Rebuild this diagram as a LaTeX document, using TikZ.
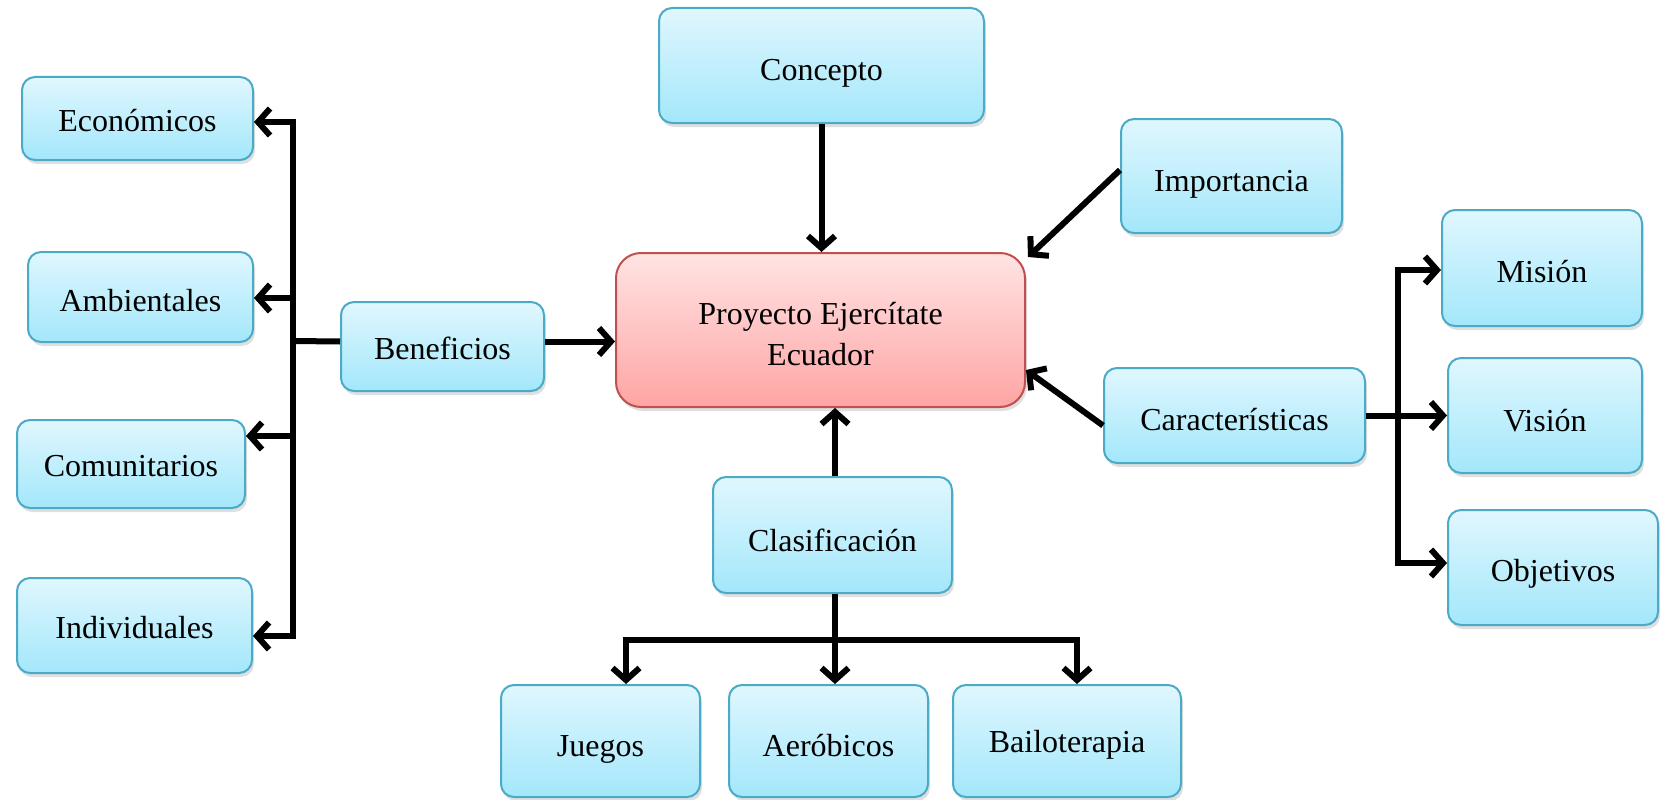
\documentclass[tikz,border=0pt]{standalone}
\usepackage{fontspec}
\setmainfont{Liberation Serif}
\usetikzlibrary{arrows.meta,shadows,calc}
\definecolor{bluetop}{RGB}{224,247,254}
\definecolor{bluebot}{RGB}{163,231,251}
\definecolor{blueline}{RGB}{75,170,198}
\definecolor{redtop}{RGB}{255,228,228}
\definecolor{redbot}{RGB}{255,164,164}
\definecolor{redline}{RGB}{192,80,77}
\newcommand\lowerby[2]{\raisebox{0pt}[\dimexpr\height+#1*2\relax][\depth]{#2}}
\begin{document}
\begin{tikzpicture}[x=1pt,y=-1pt,
  box/.style={draw=blueline, line width=2pt, rounded corners=13pt,
    top color=bluetop, bottom color=bluebot,
    drop shadow={shadow xshift=2pt, shadow yshift=-4pt, opacity=0.25},
    font=\fontsize{32}{41}\selectfont, align=center, inner sep=0pt},
  mainbox/.style={box, draw=redline, rounded corners=25pt, top color=redtop, bottom color=redbot},
  conn/.style={line width=6pt, -{Straight Barb[length=12pt,width=27pt,line width=6pt]}},
  bus/.style={line width=6pt}]
\useasboundingbox (0,0) rectangle (1666,800);

\node[mainbox, minimum width=409pt, minimum height=154pt] (cen) at (820.5,330) {\lowerby{4pt}{\parbox{380pt}{\centering Proyecto Ejercítate\\Ecuador}}};
\node[box, minimum width=325pt, minimum height=115pt] (conc) at (821.5,65.5) {\lowerby{8pt}{Concepto}};
\node[box, minimum width=221pt, minimum height=114pt] (imp) at (1231.5,176) {\lowerby{8pt}{Importancia}};
\node[box, minimum width=231pt, minimum height=83pt] (eco) at (137.5,118.5) {\lowerby{2pt}{Económicos}};
\node[box, minimum width=225pt, minimum height=90pt] (amb) at (140.5,297) {\lowerby{4pt}{Ambientales}};
\node[box, minimum width=203pt, minimum height=89pt] (ben) at (442.5,346.5) {\lowerby{2pt}{Beneficios}};
\node[box, minimum width=228pt, minimum height=88pt] (com) at (131,464) {\lowerby{2pt}{Comunitarios}};
\node[box, minimum width=235pt, minimum height=95pt] (ind) at (134.5,625.5) {\lowerby{2pt}{Individuales}};
\node[box, minimum width=261pt, minimum height=95pt] (car) at (1234.5,415.5) {\lowerby{4pt}{Características}};
\node[box, minimum width=200pt, minimum height=116pt] (mis) at (1542,268) {\lowerby{4pt}{Misión}};
\node[box, minimum width=194pt, minimum height=115pt] (vis) at (1545,415.5) {\lowerby{5pt}{Visión}};
\node[box, minimum width=210pt, minimum height=115pt] (obj) at (1553,567.5) {\lowerby{6pt}{Objetivos}};
\node[box, minimum width=239pt, minimum height=116pt] (cla) at (832.5,535) {\lowerby{5pt}{Clasificación}};
\node[box, minimum width=199pt, minimum height=112pt] (jue) at (600.5,741) {\lowerby{8pt}{Juegos}};
\node[box, minimum width=199pt, minimum height=112pt] (aer) at (828.5,741) {\lowerby{5pt}{Aeróbicos}};
\node[box, minimum width=228pt, minimum height=112pt] (bai) at (1067,741) {\lowerby{4pt}{Bailoterapia}};

% top connectors
\draw[conn] (conc.south) -- (conc.south |- cen.north);
\draw[conn] ([yshift=6pt]imp.west) -- ([xshift=2pt,yshift=-5pt]cen.north east);
\draw[conn] ([yshift=-10pt]car.west) -- ([yshift=-40pt]cen.east);
\draw[conn] ([xshift=2.5pt]cla.north) -- ([xshift=2.5pt]cla.north |- cen.south);
\draw[conn] ([yshift=5pt]ben.east) -- ([yshift=5pt]ben.east -| cen.west);

% Beneficios bus
\coordinate (bL) at (293,341);
\coordinate (bT) at (293,122);
\coordinate (bB) at (293,636);
\draw[bus] ([yshift=5pt]ben.west) -- (bL);
\draw[bus] ([yshift=3pt]bT) -- ([yshift=-3pt]bB);
\draw[conn] ([xshift=3pt]bT) -- (bT -| eco.east);
\draw[conn] (293,298) -- (amb.east |- 0,298);
\draw[conn] (293,436) -- (com.east |- 0,436);
\draw[conn] ([xshift=3pt]bB) -- (bB -| ind.east);

% Caracteristicas bus
\coordinate (cT) at (1398,270);
\coordinate (cB) at (1398,563);
\draw[bus] ([yshift=3pt]cT) -- ([yshift=-3pt]cB);
\draw[conn] (car.east) -- (vis.west |- car.east);
\draw[conn] ([xshift=-3pt]cT) -- (cT -| mis.west);
\draw[conn] ([xshift=-3pt]cB) -- (cB -| obj.west);

% Clasificacion bus
\coordinate (kM) at (835,640);
\coordinate (kL) at (626,640);
\coordinate (kR) at (1077,640);
\draw[bus] ([xshift=2.5pt]cla.south) -- ([xshift=2.5pt]cla.south |- kM);
\draw[bus] ([xshift=-3pt]kL) -- ([xshift=3pt]kR);
\draw[conn] ([yshift=3pt]kL) -- (kL |- jue.north);
\draw[conn] (kM) -- (kM |- aer.north);
\draw[conn] ([yshift=3pt]kR) -- (kR |- bai.north);
\end{tikzpicture}
\end{document}
